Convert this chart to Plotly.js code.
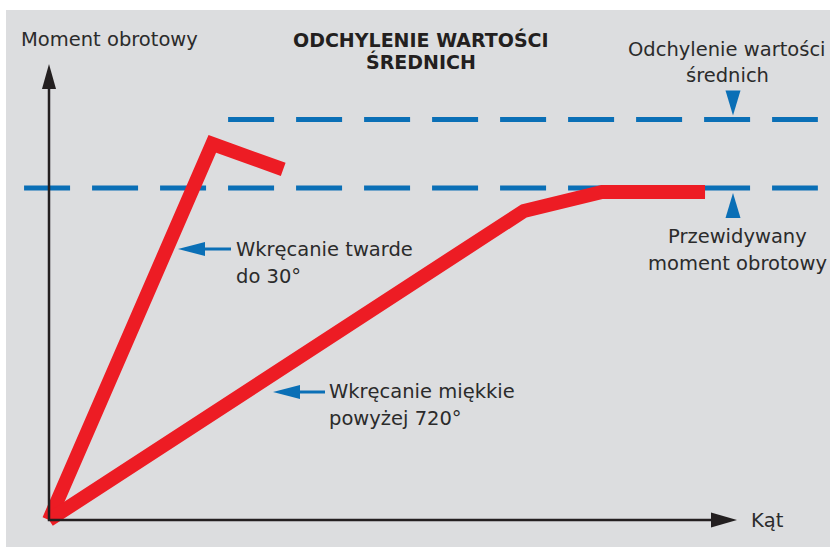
<!DOCTYPE html>
<html><head><meta charset="utf-8">
<script src="https://cdn.plot.ly/plotly-3.0.1.min.js"></script>
<style>html,body{margin:0;padding:0;background:#fff}#chart{width:830px;height:547px}</style>
</head><body><div id="chart"></div>
<script>
// ---- data (arbitrary units: angle 0..100, torque 0..100 = predicted torque) ----
const hardAngle  = [0, 24.9, 35.7];
const hardTorque = [0, 113.3, 105.6];
const softAngle  = [0, 72.4, 84.3, 100];
const softTorque = [0, 93.1, 98.8, 98.8];
const refNames   = ['Przewidywany moment obrotowy', 'Odchylenie wartości średnich'];
const refLevels  = [100, 120.6];
const refStart   = [-3.8, 27.3];
const refEnd     = [117.2, 117.2];
const axisLabels = ['Kąt', 'Moment obrotowy'];
const titleLines = ['ODCHYLENIE WARTOŚCI', 'ŚREDNICH'];

// ---- geometry helpers ----
const W = 830, H = 547, M = {l: 6, r: 0, t: 10, b: 0};
const xr = [-6.555, 119.05], yr = [-8.133, 153.61];
const kx = (W - M.l - M.r) / (xr[1] - xr[0]);
const ky = (H - M.t - M.b) / (yr[1] - yr[0]);
const dX = p => p / kx, dY = p => p / ky;
const toX = px => xr[0] + (px - M.l) / kx;
const toY = py => yr[1] - (py - M.t) / ky;

const RED = '#ed1c24', BLUE = '#0a6fb6', INK = '#231f20', TXT = '#2b2b2b';
const FONT = 'DejaVu Sans';

function tri(tx, ty, dir, len, wid, color) {
  let p;
  if (dir === 'up')    { const b = ty - dY(len); p = [[tx - dX(wid/2), b], [tx + dX(wid/2), b]]; }
  if (dir === 'down')  { const b = ty + dY(len); p = [[tx - dX(wid/2), b], [tx + dX(wid/2), b]]; }
  if (dir === 'left')  { const b = tx + dX(len); p = [[b, ty - dY(wid/2)], [b, ty + dY(wid/2)]]; }
  if (dir === 'right') { const b = tx - dX(len); p = [[b, ty - dY(wid/2)], [b, ty + dY(wid/2)]]; }
  return {type: 'path', xref: 'x', yref: 'y', layer: 'above',
    path: `M${p[0][0]},${p[0][1]} L${p[1][0]},${p[1][1]} L${tx},${ty} Z`,
    fillcolor: color, line: {width: 0}};
}

const axisTipX = toX(737), axisTipY = toY(64);
const shapes = [
  {type: 'path', xref: 'x', yref: 'y', layer: 'above',
   path: `M0,${axisTipY - dY(25)} L0,0 L${axisTipX - dX(25)},0`,
   line: {color: INK, width: 2.5}},
  tri(0, axisTipY, 'up', 25, 14, INK),
  tri(axisTipX, 0, 'right', 26, 15, INK),
  // reference markers
  tri(toX(733), refLevels[1] + dY(4), 'down', 25, 15, BLUE),
  tri(toX(733), refLevels[0] - dY(5), 'up', 25, 15, BLUE),
];

// blue pointer arrows
function pointer(tipPx, tipPy, tailPx) {
  const tx = toX(tipPx), ty = toY(tipPy);
  shapes.push({type: 'line', xref: 'x', yref: 'y', layer: 'above',
    x0: tx + dX(20), x1: toX(tailPx), y0: ty, y1: ty, line: {color: BLUE, width: 3}});
  shapes.push(tri(tx, ty, 'left', 27, 14, BLUE));
}
pointer(178, 249, 231);
pointer(273, 392, 325);

function txt(text, px, py, anchor, opts) {
  return Object.assign({text, x: toX(px), y: toY(py), xref: 'x', yref: 'y',
    xanchor: anchor, yanchor: 'middle', showarrow: false,
    font: {family: FONT, size: 19.5, color: TXT}}, opts || {});
}
const titleFont = {family: FONT, size: 19, color: INK, weight: 'bold'};
const annotations = [
  txt(axisLabels[1], 19, 39, 'left'),
  txt(axisLabels[0], 749, 520, 'left'),
  txt('<b>' + titleLines[0] + '</b>', 421, 39, 'center', {font: titleFont}),
  txt('<b>' + titleLines[1] + '</b>', 421, 61, 'center', {font: titleFont}),
  txt('Odchylenie wartości', 727, 49, 'center'),
  txt('średnich', 727, 75, 'center'),
  txt('Przewidywany', 737, 236, 'center'),
  txt('moment obrotowy', 737, 263, 'center'),
  txt('Wkręcanie twarde', 234, 249, 'left'),
  txt('do 30°', 234, 276, 'left'),
  txt('Wkręcanie miękkie', 327, 391, 'left'),
  txt('powyżej 720°', 327, 418, 'left'),
];

const traces = refLevels.map((lv, i) => ({
  x: [refStart[i], refEnd[i]], y: [lv, lv], name: refNames[i],
  mode: 'lines', line: {color: BLUE, width: 5, dash: '46px,22px'}, hoverinfo: 'skip'
})).concat([
  {x: hardAngle, y: hardTorque, name: 'Wkręcanie twarde', mode: 'lines',
   line: {color: RED, width: 14}},
  {x: softAngle, y: softTorque, name: 'Wkręcanie miękkie', mode: 'lines',
   line: {color: RED, width: 14}},
]);

const layout = {
  width: W, height: H, margin: M, showlegend: false,
  paper_bgcolor: '#ffffff', plot_bgcolor: '#dcdddf',
  xaxis: {range: xr, visible: false, fixedrange: true},
  yaxis: {range: yr, visible: false, fixedrange: true},
  shapes, annotations
};
Plotly.newPlot('chart', traces, layout, {displayModeBar: false, staticPlot: true});
</script></body></html>
